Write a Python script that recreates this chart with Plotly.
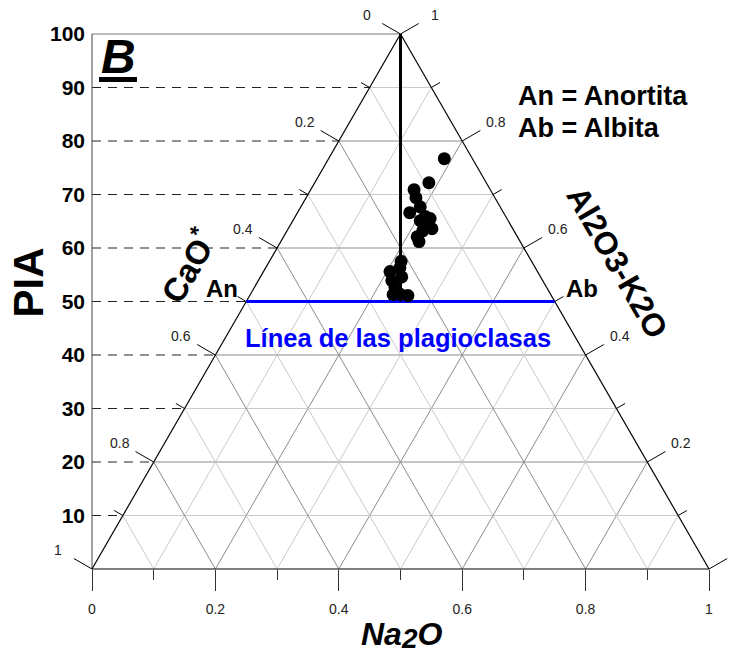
import plotly.graph_objects as go

# ---- sample data: Na2O fraction (ternary x) and PIA ----
na2o = [0.571, 0.546, 0.522, 0.525, 0.532, 0.515, 0.540, 0.532, 0.548, 0.543,
        0.551, 0.536, 0.527, 0.530, 0.501, 0.499, 0.483, 0.486, 0.502, 0.491,
        0.488, 0.499, 0.512]
pia = [76.7, 72.2, 70.9, 69.4, 67.7, 66.6, 65.9, 65.1, 65.5, 64.0,
       63.6, 63.2, 62.1, 61.2, 57.5, 56.3, 55.6, 53.9, 54.6, 52.6,
       51.3, 51.4, 51.1]

# plagioclase line (An - Ab) and the weathering trend from the apex
plag_x = [0.25, 0.75]
plag_pia = [50, 50]
trend_x = [0.5, 0.5]
trend_pia = [100, 50]

x_ticks = [0, 0.2, 0.4, 0.6, 0.8, 1]
x_tick_text = ["0", "0.2", "0.4", "0.6", "0.8", "1"]
x_minor = [0.1, 0.3, 0.5, 0.7, 0.9]
pia_ticks = [10, 20, 30, 40, 50, 60, 70, 80, 90, 100]
edge_ticks = [i / 10 for i in range(11)]
left_labels = [0, 0.2, 0.4, 0.6, 0.8, 1]     # CaO* along the left side
right_labels = [0.2, 0.4, 0.6, 0.8, 1]       # Al2O3-K2O along the right side

W, H = 738, 656
X_RANGE = [-0.14911, 1.04700]
Y_RANGE = [-16.262, 106.355]
SX = W / (X_RANGE[1] - X_RANGE[0])   # px per x unit
SY = H / (Y_RANGE[1] - Y_RANGE[0])   # px per PIA unit

FONT = "Liberation Sans, Arial, sans-serif"
MAJOR_GRID = "#8c8c8c"
MINOR_GRID = "#cbcbcb"


def px_dx(p):
    return p / SX


def px_dy(p):
    return p / SY


def fmt(v):
    return "0" if v == 0 else ("1" if v == 1 else f"{v:g}")


shapes = []


def seg(x0, y0, x1, y1, color, width=1, dash=None):
    line = dict(color=color, width=width)
    if dash:
        line["dash"] = dash
    shapes.append(dict(type="line", xref="x", yref="y", x0=x0, y0=y0,
                       x1=x1, y1=y1, line=line, layer="below"))


# triangular grid
for k in range(1, 10):
    f = k / 10
    col = MAJOR_GRID if k % 2 == 0 else MINOR_GRID
    h = 100 * f
    seg(f / 2, h, 1 - f / 2, h, col)                 # constant PIA
    seg(f, 0, f / 2, 100 * f, col)                   # parallel to right side
    seg(f, 0, f + (1 - f) / 2, 100 * (1 - f), col)   # parallel to left side

# dashed guides from the PIA axis to the left side
for h in pia_ticks[:-1]:
    seg(0, h, h / 200, h, "#222", 1, "9px,7px")
seg(0, 100, 0.5, 100, "#777", 1)

# PIA axis line
seg(0, 0, 0, 100, "#444", 1)

# triangle outline
seg(0, 0, 1, 0, "#000", 1.2)
seg(0, 0, 0.5, 100, "#000", 1.2)
seg(1, 0, 0.5, 100, "#000", 1.2)

# ternary ticks on the left and right sides
annotations = []
for i, t in enumerate(edge_ticks):
    L = 21 if i % 2 == 0 else 10
    h = 100 * t
    lx, rx = h / 200, 1 - h / 200
    seg(lx, h, lx - px_dx(0.866 * L), h + px_dy(0.5 * L), "#000", 1)
    seg(rx, h, rx + px_dx(0.866 * L), h + px_dy(0.5 * L), "#000", 1)

for v in left_labels:
    h = 100 * (1 - v)
    annotations.append(dict(x=h / 200 - px_dx(34), y=h + px_dy(19), text=fmt(v),
                            showarrow=False, font=dict(size=14, color="#222", family=FONT)))
for v in right_labels:
    h = 100 * v
    annotations.append(dict(x=1 - h / 200 + px_dx(34), y=h + px_dy(19), text=fmt(v),
                            showarrow=False, font=dict(size=14, color="#222", family=FONT)))


def px_to_data(px, py):
    return X_RANGE[0] + px / SX, Y_RANGE[1] - py / SY


def label(px, py, text, size, color="#000", angle=0, xanchor="center"):
    x, y = px_to_data(px, py)
    annotations.append(dict(x=x, y=y, text=text, showarrow=False, textangle=angle,
                            xanchor=xanchor,
                            font=dict(size=size, color=color, family=FONT)))


label(27.5, 283, "<b>PIA</b>", 42, angle=-90)
label(118, 56, "<b><i>B</i></b>", 48)
label(516, 96, "<b>An = Anortita</b>", 27, xanchor="left")
label(516, 128, "<b>Ab = Albita</b>", 27, xanchor="left")
label(222, 288, "<b>An</b>", 24)
label(582, 288, "<b>Ab</b>", 24)
label(398, 338, "<b>Línea de las plagioclasas</b>", 25.5, color="#0000ff")
label(187, 266, "<b>CaO<sup>*</sup></b>", 33, angle=-60)
label(617, 262, "<b>Al2O3-K2O</b>", 32, angle=60)
label(401, 635, "<b><i>Na<span style='font-size:28px;baseline-shift:-3px'>2</span>O</i></b>", 32)

# underline bar beneath the panel letter
ux0, uy = px_to_data(99, 79.5)
ux1, _ = px_to_data(137, 79.5)
shapes.append(dict(type="line", xref="x", yref="y", x0=ux0, y0=uy, x1=ux1, y1=uy,
                   line=dict(color="#000", width=5), layer="above"))

fig = go.Figure()
fig.add_trace(go.Scatter(x=plag_x, y=plag_pia, mode="lines",
                         line=dict(color="#0000ff", width=3), hoverinfo="skip"))
fig.add_trace(go.Scatter(x=trend_x, y=trend_pia, mode="lines",
                         line=dict(color="#000", width=3), hoverinfo="skip"))
fig.add_trace(go.Scatter(x=na2o, y=pia, mode="markers",
                         marker=dict(color="#000", size=13), cliponaxis=False))

fig.update_layout(
    width=W, height=H, margin=dict(l=0, r=0, t=0, b=0),
    paper_bgcolor="white", plot_bgcolor="white", showlegend=False,
    shapes=shapes, annotations=annotations,
    xaxis=dict(range=X_RANGE, anchor="free",
               position=(0 - Y_RANGE[0]) / (Y_RANGE[1] - Y_RANGE[0]),
               showline=False, showgrid=False, zeroline=False,
               tickvals=x_ticks, ticktext=x_tick_text,
               ticks="outside", ticklen=21, tickcolor="#333", tickwidth=1,
               ticklabelstandoff=6,
               minor=dict(tickvals=x_minor, ticks="outside", ticklen=10,
                          tickcolor="#333", tickwidth=1, showgrid=False),
               tickfont=dict(size=14, color="#222", family=FONT)),
    yaxis=dict(range=Y_RANGE, anchor="free",
               position=(0 - X_RANGE[0]) / (X_RANGE[1] - X_RANGE[0]),
               showline=False, showgrid=False, zeroline=False,
               tickvals=pia_ticks, ticktext=[str(v) for v in pia_ticks],
               ticks="", ticklabelstandoff=7,
               tickfont=dict(size=21, color="#000", family=FONT, weight="bold")),
)

fig.write_html("out.html")
